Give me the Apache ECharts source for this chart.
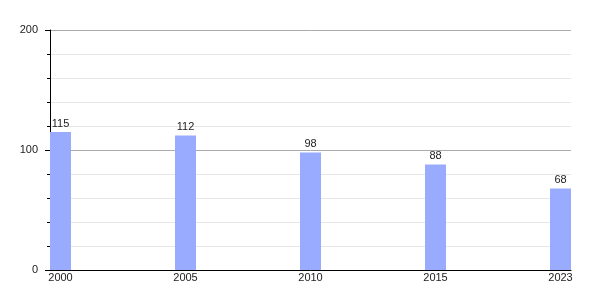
<!DOCTYPE html>
<html><head><meta charset="utf-8">
<script src="https://cdn.jsdelivr.net/npm/echarts@6/dist/echarts.min.js"></script>
<style>html,body{margin:0;padding:0;background:#fff}#c{width:600px;height:300px}</style>
</head><body><div id="c"></div>
<script>
const categories = ['2000', '2005', '2010', '2015', '2023'];
const values = [115, 112, 98, 88, 68];
const yTicks = [0, 100, 200];

const chart = echarts.init(document.getElementById('c'), null, {renderer: 'canvas'});
const idx = categories.map((_, i) => i);
const pad = 10.5 / 125;
chart.setOption({
  animation: false,
  grid: {left: 50, right: 29, top: 30, bottom: 30, containLabel: false},
  xAxis: {
    type: 'value', min: -pad, max: categories.length - 1 + pad,
    axisLine: {show: true, onZero: false, lineStyle: {color: '#000', width: 1}},
    axisTick: {show: false},
    splitLine: {show: false},
    axisLabel: {
      customValues: idx, margin: 2, fontSize: 11, color: '#222', fontFamily: 'Liberation Sans, Arial, sans-serif',
      formatter: v => categories[Math.round(v)]
    }
  },
  yAxis: {
    type: 'value', min: yTicks[0], max: yTicks[yTicks.length - 1], interval: 100,
    axisLine: {show: true, onZero: false, lineStyle: {color: '#000', width: 1}},
    axisTick: {show: true, length: 5, lineStyle: {color: '#000'}},
    minorTick: {show: true, splitNumber: 5, length: 3, lineStyle: {color: '#000'}},
    splitLine: {show: true, lineStyle: {color: '#aaa', width: 1}},
    minorSplitLine: {show: true, lineStyle: {color: '#e6e6e6', width: 1}},
    axisLabel: {margin: 12, fontSize: 11, color: '#222', fontFamily: 'Liberation Sans, Arial, sans-serif'}
  },
  series: [{
    type: 'bar', barWidth: 21,
    data: values.map((v, i) => [i, v]),
    itemStyle: {color: '#99abff'},
    label: {show: true, position: 'top', distance: 3, fontSize: 11, color: '#222', fontFamily: 'Liberation Sans, Arial, sans-serif'}
  }]
});
</script></body></html>
